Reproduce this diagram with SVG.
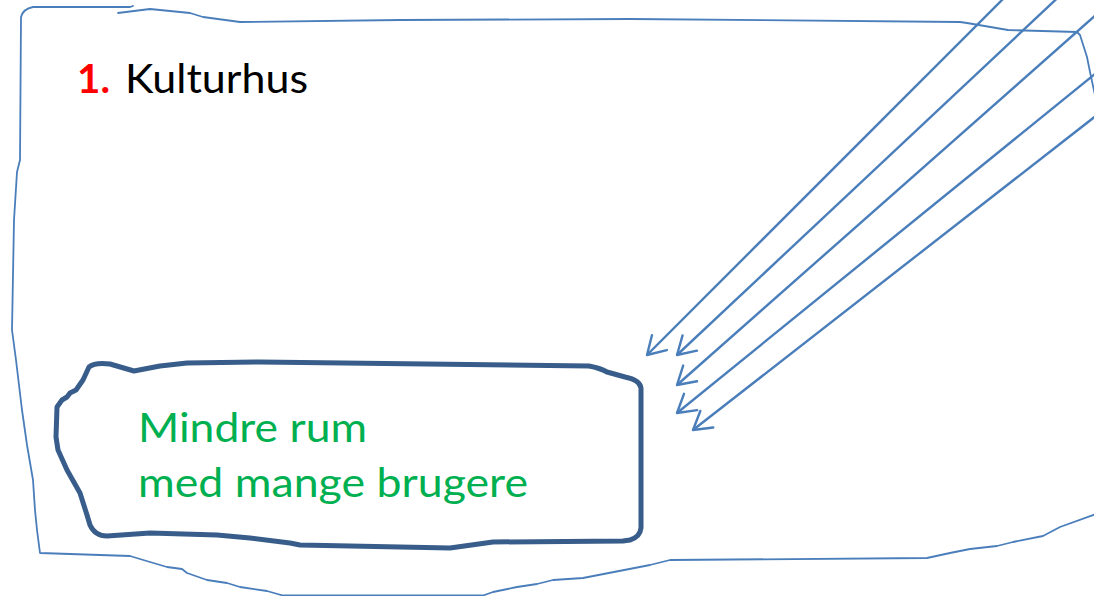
<svg xmlns="http://www.w3.org/2000/svg" width="1094" height="596" viewBox="0 0 1094 596">
<style>
.outline{fill:none;stroke:#4A7EBB;stroke-width:1.8;stroke-linejoin:round;stroke-linecap:round}
.box{fill:none;stroke:#385D8A;stroke-width:5;stroke-linejoin:round;stroke-linecap:round}
.arrow{fill:none;stroke:#4A7EBB;stroke-width:2.4;marker-end:url(#open)}
.t{font-family:Lato,"Open Sans","Liberation Sans",sans-serif;font-size:41px}
</style>
<defs>
<marker id="open" markerUnits="userSpaceOnUse" viewBox="-25 -15 30 30" refX="0" refY="0" markerWidth="30" markerHeight="30" orient="auto" overflow="visible">
<path d="M-17.5,-10.5 L0,0 L-17.5,10.5" fill="none" stroke="#4A7EBB" stroke-width="2.4" stroke-linecap="round" stroke-linejoin="round"/>
</marker>
</defs>
<rect width="1094" height="596" fill="#ffffff"/>
<g id="frame">
<path class="outline" d="M133,6 L130,7 L33,7 Q23,9 21,17 L20,160 L17,172 L14,220 L12,330 L16,360 L22,410 L27,445 L33,480 L35,510 L37,530 L40,553 L130,556 L150,562 L167,567 L182,569 L187,573 L207,580 L227,583 L240,587 L267,591 L283,595.5 L483,595.5 L493,592 L517,587 L537,584 L553,580 L583,578 L650,565 L670,560 L927,558 L950,553 L970,549 L997,546 L1013,542 L1043,536 L1060,527 L1096,514"/>
<path class="outline" d="M118,13 L150,9 L190,13 L203,17 L240,22 L400,20 L630,19 L960,22 L967,23 L1008,30 L1077,32 L1080,35 L1087,57 L1090,72 L1095,95"/>
</g>
<g id="title">
<text class="t" x="77" y="93" fill="#FF0000" font-weight="bold" textLength="33" lengthAdjust="spacingAndGlyphs">1.</text>
<text class="t" x="125" y="93" fill="#000000" textLength="183" lengthAdjust="spacingAndGlyphs">Kulturhus</text>
</g>
<g id="node-mindre-rum">
<path class="box" d="M89,367 Q95,362 110,364 L134,371 L160,366 L187,363 L260,362 L589,366 Q600,368 607,372 L625,377 Q640,380 641,388 L641,528 Q640,537 630,540 L623,541 L493,542 L450,548 L300,545 L290,543 L250,538 L217,535 L150,533 L107,536 Q95,536 90,525 L87,515 L80,493 L67,470 L58,450 L56,437 L57,407 L62,400 L67,397 L70,393 L76,390 L83,380 Z"/>
<text class="t" x="138" y="442" fill="#00B050" textLength="229" lengthAdjust="spacingAndGlyphs">Mindre rum</text>
<text class="t" x="138" y="497" fill="#00B050" textLength="390" lengthAdjust="spacingAndGlyphs">med mange brugere</text>
</g>
<g id="connectors">
<path class="arrow" d="M1012,-10 L647,355"/>
<path class="arrow" d="M1066,-10 L677,355"/>
<path class="arrow" d="M1105,7 L677,385"/>
<path class="arrow" d="M1106,65 L677,413"/>
<path class="arrow" d="M1106,108 L693,430"/>
</g>
</svg>
